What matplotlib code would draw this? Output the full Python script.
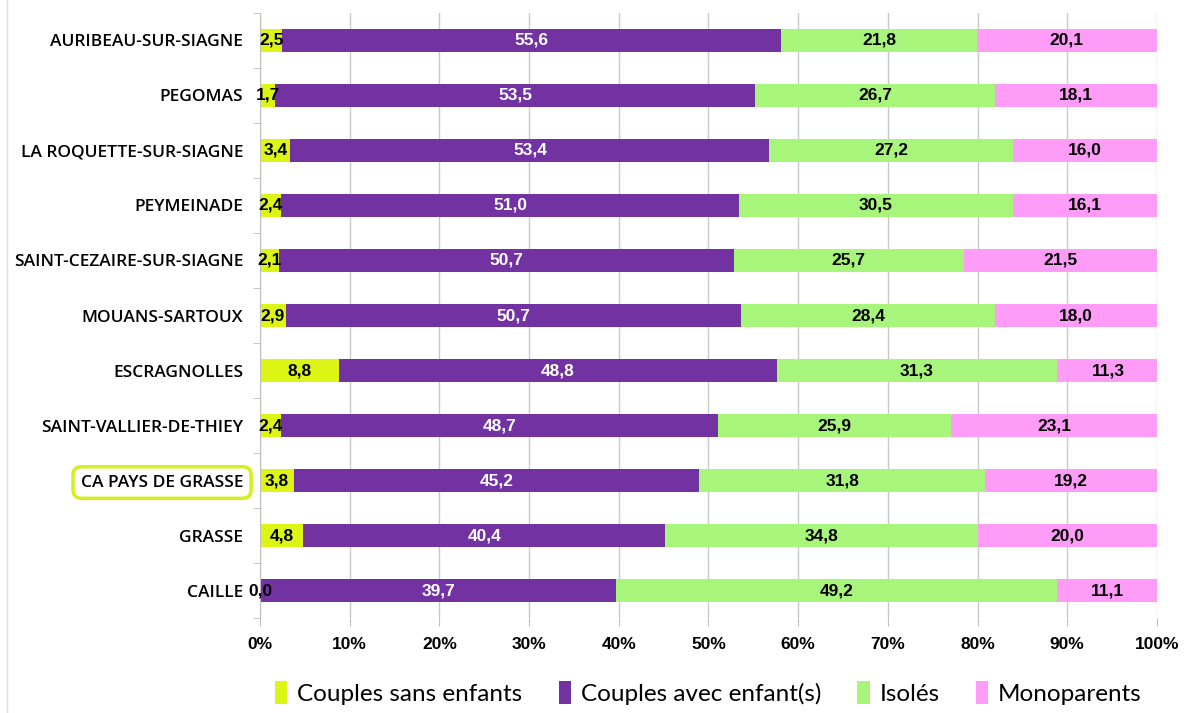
#!/usr/bin/env python3

import matplotlib.pyplot as plt
import numpy as np
from matplotlib.lines import Line2D

# communes, top to bottom as drawn
communes = ["AURIBEAU-SUR-SIAGNE", "PEGOMAS", "LA ROQUETTE-SUR-SIAGNE", "PEYMEINADE",
            "SAINT-CEZAIRE-SUR-SIAGNE", "MOUANS-SARTOUX", "ESCRAGNOLLES",
            "SAINT-VALLIER-DE-THIEY", "CA PAYS DE GRASSE", "GRASSE", "CAILLE"]

sans_enfants = [2.5, 1.7, 3.4, 2.4, 2.1, 2.9, 8.8, 2.4, 3.8, 4.8, 0.0]
avec_enfants = [55.6, 53.5, 53.4, 51.0, 50.7, 50.7, 48.8, 48.7, 45.2, 40.4, 39.7]
isoles = [21.8, 26.7, 27.2, 30.5, 25.7, 28.4, 31.3, 25.9, 31.8, 34.8, 49.2]
monoparents = [20.1, 18.1, 16.0, 16.1, 21.5, 18.0, 11.3, 23.1, 19.2, 20.0, 11.1]

series = [("Couples sans enfants", sans_enfants, "#dcf514", "black"),
          ("Couples avec enfant(s)", avec_enfants, "#7232a2", "white"),
          ("Isolés", isoles, "#a8f57c", "black"),
          ("Monoparents", monoparents, "#ff9cf8", "black")]

x_ticks = np.arange(0, 101, 10)

fig = plt.figure(figsize=(11.86, 7.13), dpi=100)
ax = fig.add_axes([0.2192, 0.1332, 0.7563, 0.8486])

y = np.arange(len(communes))
left = np.zeros(len(communes))
for name, vals, col, tcol in series:
    vals = np.array(vals)
    ax.barh(y, vals, left=left, height=0.42, color=col, label=name, zorder=2)
    for yi, l, v in zip(y, left, vals):
        ax.text(l + v / 2, yi, f"{v:.1f}".replace(".", ","), ha="center", va="center",
                color=tcol, fontsize=12.5, fontweight="bold", family="Liberation Sans", zorder=3)
    left += vals

ax.set_xlim(0, 100)
ax.set_ylim(len(communes) - 0.5, -0.5)
ax.set_xticks(x_ticks)
ax.set_xticklabels([f"{t}%" for t in x_ticks], fontsize=12.5, fontweight="bold",
                   family="Liberation Sans")
ax.set_yticks(y)
ax.set_yticklabels(communes, fontsize=12.5, family="Open Sans", fontweight="semibold")
ax.set_yticks(np.arange(len(communes) + 1) - 0.5, minor=True)
ax.tick_params(axis="y", which="major", length=0, pad=12)
ax.tick_params(axis="y", which="minor", length=5, color="#bfbfbf")
ax.tick_params(axis="x", length=6, color="#bfbfbf", pad=8)

ax.grid(axis="x", color="#c8c8c8", linewidth=1, zorder=0)
for s in ["top", "right", "bottom"]:
    ax.spines[s].set_visible(False)
ax.spines["left"].set_color("#bfbfbf")

# box around the agglomeration label
for lab in ax.get_yticklabels():
    if lab.get_text() == "CA PAYS DE GRASSE":
        lab.set_bbox(dict(boxstyle="round,pad=0.45,rounding_size=0.5", fc="white",
                          ec="#d4ef1c", lw=2.5))

leg = ax.legend(loc="upper center", bbox_to_anchor=(0.5, -0.068), ncol=4, frameon=False,
                handlelength=0.5, handleheight=1.1, handletextpad=0.4, columnspacing=1.5,
                prop={"family": "Lato", "size": 17.5})

fig.add_artist(Line2D([0.006, 0.006], [0, 1], color="#dddddd", lw=1, transform=fig.transFigure))

fig.savefig("out.png", dpi=100, facecolor="white")
